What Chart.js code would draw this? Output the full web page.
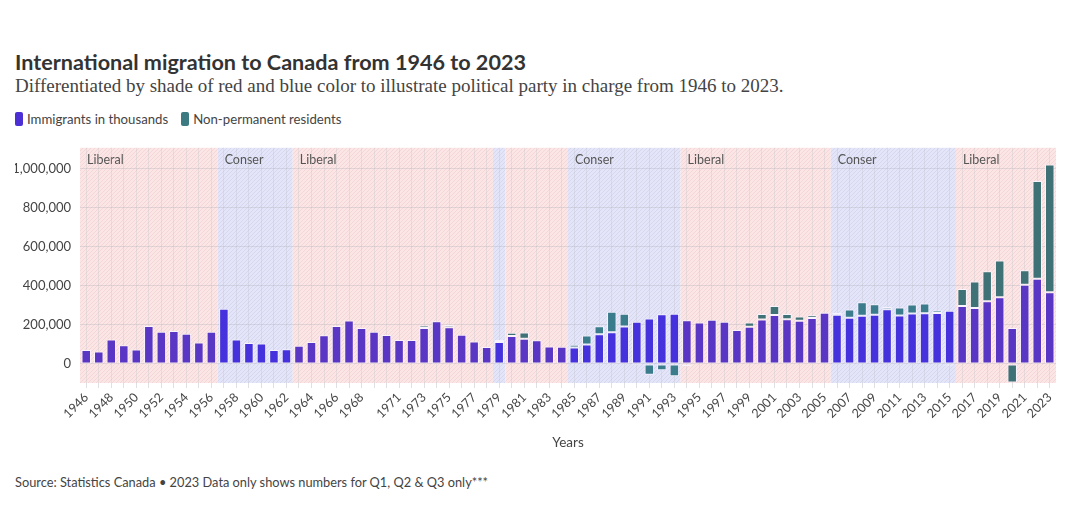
<!DOCTYPE html>
<html>
<head>
<meta charset="utf-8">
<script src="https://cdn.jsdelivr.net/npm/chart.js@4.4.1/dist/chart.umd.min.js"></script>
<style>
  html, body { margin: 0; padding: 0; background: #ffffff; }
  body { width: 1080px; height: 522px; position: relative; overflow: hidden; font-family: Lato, "Open Sans", sans-serif; color: #333; }
  #title { position: absolute; left: 15px; top: 49px; font-family: Lato, sans-serif; font-weight: 700; font-size: 21.6px; color: #333; white-space: nowrap; }
  #subtitle { position: absolute; left: 15px; top: 75px; font-family: "Liberation Serif", serif; font-size: 19px; color: #444; white-space: nowrap; }
  #legend { position: absolute; left: 15px; top: 111px; font-size: 13.2px; color: #444; white-space: nowrap; display: flex; align-items: center; }
  .sw { display: inline-block; width: 8px; height: 14px; border-radius: 2px; margin-right: 4px; }
  .item { display: inline-flex; align-items: center; margin-right: 13px; }
  #source { position: absolute; left: 15px; top: 474px; font-size: 12.8px; color: #444; white-space: nowrap; }
  #wrap { position: absolute; left: 0; top: 131px; width: 1080px; height: 322px; }
</style>
</head>
<body>
<div id="title">International migration to Canada from 1946 to 2023</div>
<div id="subtitle">Differentiated by shade of red and blue color to illustrate political party in charge from 1946 to 2023.</div>
<div id="legend">
  <span class="item"><span class="sw" style="background:#4d2fd6"></span>Immigrants in thousands</span>
  <span class="item"><span class="sw" style="background:#3b7a80"></span>Non-permanent residents</span>
</div>
<div id="wrap"><canvas id="c"></canvas></div>
<div id="source">Source: Statistics Canada • 2023 Data only shows numbers for Q1, Q2 &amp; Q3 only***</div>
<script>
// ---------- DATA ----------
const years = [];
for (let y = 1946; y <= 2023; y++) years.push(y);

const immigrants = [
  71719, 64127, 125414, 95217, 73912, 194391, 164498, 168868, 154227, 109946,   // 1946-1955
  164857, 282164, 124851, 106928, 104111, 71689, 74586, 93151, 112606, 146758,  // 1956-1965
  194743, 222876, 183974, 164531, 147713, 121900, 122006, 184200, 218465, 187881, // 1966-1975
  149429, 114914, 86313, 112096, 143117, 128618, 121147, 89157, 88239, 84302,   // 1976-1985
  99219, 152098, 161929, 191550, 216452, 232744, 254817, 256741, 224364, 212504, // 1986-1995
  226073, 216038, 174195, 189956, 227458, 250640, 229048, 221349, 235823, 262242, // 1996-2005
  251640, 236753, 247243, 252179, 280691, 248748, 257903, 259023, 260404, 271845, // 2006-2015
  296379, 286479, 321045, 341180, 184595, 406025, 437180, 367000                  // 2016-2023
];

const nonPermanent = [
  0, 0, 0, 0, 0, 0, 0, 0, 0, 0,                 // 1946-1955
  0, 0, 0, 0, 0, 0, 0, 0, 0, 0,                 // 1956-1965
  0, 0, 0, 0, 0, 0, 0, 12000, 0, 12000,         // 1966-1975
  -2500, 0, -2000, 10000, 16000, 32000, 0, 0, 0, 14000, // 1976-1985
  46000, 41000, 106000, 66000, -7000, -56000, -32000, -64000, -12000, 0, // 1986-1995
  -5000, 0, 0, 22000, 28000, 46000, 27000, 22000, 14000, 2000, // 1996-2005
  10000, 42000, 69000, 54000, 11000, 40000, 46000, 50000, 13000, -8000, // 2006-2015
  87000, 136000, 154000, 189000, -96000, 74000, 500000, 656000 // 2016-2023
];

const tickYears = [1946, 1948, 1950, 1952, 1954, 1956, 1958, 1960, 1962, 1964, 1966, 1968,
  1971, 1973, 1975, 1977, 1979, 1981, 1983, 1985, 1987, 1989, 1991, 1993, 1995, 1997, 1999,
  2001, 2003, 2005, 2007, 2009, 2011, 2013, 2015, 2017, 2019, 2021, 2023];

const yTicks = [0, 200000, 400000, 600000, 800000, 1000000];

// political periods
const periodStart = [1946, 1957, 1963, 1979, 1980, 1985, 1994, 2006, 2016];
const periodEnd   = [1956, 1962, 1978, 1979, 1984, 1993, 2005, 2015, 2023];
const periodParty = ['L', 'C', 'L', 'C', 'L', 'C', 'L', 'C', 'L'];
const periodLabel = ['Liberal', 'Conser', 'Liberal', '', '', 'Conser', 'Liberal', 'Conser', 'Liberal'];

// ---------- STYLE ----------
function partyOf(year) {
  for (let i = 0; i < periodStart.length; i++) {
    if (year >= periodStart[i] && year <= periodEnd[i]) return periodParty[i];
  }
  return 'L';
}
const colImmL = '#5a36c4', colImmC = '#4632dc';
const colNprL = '#3e7276', colNprC = '#3b7c8c';

const bandsPlugin = {
  id: 'bands',
  beforeDraw(chart) {
    const ctx = chart.ctx, x = chart.scales.x, a = chart.chartArea;
    const step = x.getPixelForValue(1) - x.getPixelForValue(0);
    function pattern(base, line) {
      const c = document.createElement('canvas');
      c.width = 4; c.height = 4;
      const g = c.getContext('2d');
      g.fillStyle = base; g.fillRect(0, 0, 4, 4);
      g.fillStyle = line;
      g.fillRect(0, 3, 1, 1); g.fillRect(1, 2, 1, 1); g.fillRect(2, 1, 1, 1); g.fillRect(3, 0, 1, 1);
      return ctx.createPattern(c, 'repeat');
    }
    const patL = pattern('#fbe6e5', '#f3d7d8');
    const patC = pattern('#e4e5f8', '#d5d7ef');
    ctx.save();
    for (let i = 0; i < periodStart.length; i++) {
      const i0 = years.indexOf(periodStart[i]), i1 = years.indexOf(periodEnd[i]);
      const left = i0 === 0 ? a.left : x.getPixelForValue(i0) - step / 2;
      const right = i1 === years.length - 1 ? a.right : x.getPixelForValue(i1) + step / 2;
      ctx.fillStyle = periodParty[i] === 'L' ? patL : patC;
      ctx.fillRect(left, a.top, right - left, a.bottom - a.top);
    }
    ctx.font = '12.5px Lato, sans-serif';
    ctx.fillStyle = '#555';
    ctx.textBaseline = 'middle';
    ctx.textAlign = 'left';
    for (let i = 0; i < periodStart.length; i++) {
      if (!periodLabel[i]) continue;
      const i0 = years.indexOf(periodStart[i]);
      const left = i0 === 0 ? a.left : x.getPixelForValue(i0) - step / 2;
      ctx.fillText(periodLabel[i], left + 7, a.top + 12);
    }
    ctx.restore();
  }
};

new Chart(document.getElementById('c'), {
  type: 'bar',
  data: {
    labels: years.map(String),
    datasets: [
      {
        label: 'Immigrants in thousands',
        data: immigrants,
        backgroundColor: ctx => partyOf(years[ctx.dataIndex]) === 'C' ? colImmC : colImmL,
        borderColor: 'rgba(250,245,255,0.9)',
        borderWidth: 1,
        borderSkipped: false,
        barPercentage: 0.76,
        categoryPercentage: 1
      },
      {
        label: 'Non-permanent residents',
        data: nonPermanent,
        backgroundColor: ctx => partyOf(years[ctx.dataIndex]) === 'C' ? colNprC : colNprL,
        borderColor: 'rgba(250,245,255,0.9)',
        borderWidth: 1,
        borderSkipped: false,
        barPercentage: 0.76,
        categoryPercentage: 1
      }
    ]
  },
  options: {
    responsive: true,
    maintainAspectRatio: false,
    animation: false,
    layout: { padding: { left: 15, right: 24, top: 8, bottom: 0 } },
    plugins: {
      legend: { display: false },
      tooltip: { enabled: false }
    },
    scales: {
      x: {
        stacked: true,
        border: { display: false },
        grid: { offset: false, color: 'rgba(185,185,195,0.28)', tickLength: 5, tickColor: 'rgba(185,185,195,0.45)' },
        ticks: {
          autoSkip: false,
          maxRotation: 45,
          minRotation: 45,
          padding: 2,
          color: '#444',
          font: { family: 'Lato', size: 12.5 },
          callback: (v, i) => tickYears.includes(years[i]) ? String(years[i]) : ''
        },
        title: { display: true, text: 'Years', color: '#444', font: { family: 'Lato', size: 13.5 }, padding: { top: 4, bottom: 2 } },
        afterFit: s => { s.height = 70; }
      },
      y: {
        stacked: true,
        min: -98000,
        max: 1108000,
        border: { display: false },
        grid: { color: 'rgba(170,170,180,0.30)', drawTicks: false },
        ticks: {
          color: '#444',
          padding: 9,
          font: { family: 'Lato', size: 13 },
          callback: v => Number(v).toLocaleString('en-US')
        },
        afterBuildTicks: s => { s.ticks = yTicks.map(v => ({ value: v })); },
        afterFit: s => { s.width = 65; }
      }
    }
  },
  plugins: [bandsPlugin]
});
</script>
</body>
</html>
